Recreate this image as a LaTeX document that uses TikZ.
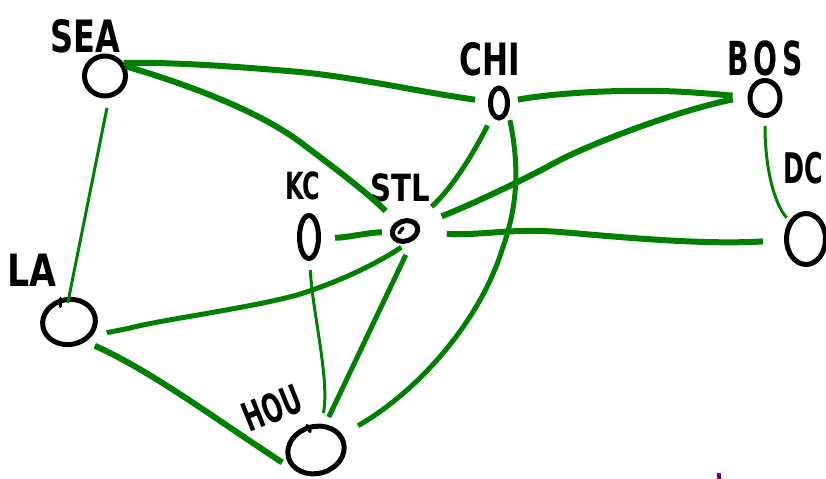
\documentclass[tikz,border=0pt]{standalone}
\usepackage{fontspec}
\setmainfont{DejaVu Sans}
\usetikzlibrary{shapes.geometric}
\newdimen\pxu \pxu=0.03cm
\definecolor{edgegreen}{RGB}{0,128,0}
\definecolor{markpurple}{RGB}{128,0,128}
\newcommand\citylab[3]{\fontsize{#1}{#1}\selectfont\scalebox{#2}[1]{#3}}
\begin{document}
\begin{tikzpicture}[x=0.03cm,y=-0.03cm,
  city/.style={draw=black, line width=5\pxu, ellipse, inner sep=0pt},
  lbl/.style={font=\bfseries, inner sep=0pt, text=black},
  tick/.style={draw=black, line width=3.5\pxu, line cap=round},
  thickedge/.style={draw=edgegreen, line width=6\pxu},
  midedge/.style={draw=edgegreen, line width=5\pxu},
  thinedge/.style={draw=edgegreen, line width=3\pxu},
]
\useasboundingbox (0,0) rectangle (826,479);

% cities
\node[city, minimum width=41\pxu, minimum height=40\pxu] (sea) at (105,76) {};
\node[city, minimum width=17\pxu, minimum height=30\pxu] (chi) at (499,103) {};
\node[city, minimum width=30\pxu, minimum height=35\pxu] (bos) at (765,98) {};
\node[city, minimum width=39\pxu, minimum height=51\pxu] (dc) at (806,239) {};
\node[city, minimum width=19\pxu, minimum height=43\pxu] (kc) at (309,237) {};
\node[city, minimum width=26\pxu, minimum height=20\pxu, rotate=20] (stl) at (405,231) {};
\node[city, minimum width=53\pxu, minimum height=45\pxu, rotate=10] (la) at (69,322) {};
\node[city, minimum width=57\pxu, minimum height=47\pxu, rotate=15] (hou) at (316,450) {};

% labels
\node[lbl] (lsea) at (85,36) {\citylab{38}{0.72}{SEA}};
\node[lbl] (lchi) at (490,59) {\citylab{38}{0.7}{CHI}};
\node[lbl] (lbos) at (765,58) {\citylab{40}{0.6}{B\,O\,S}};
\node[lbl] (ldc) at (803,168) {\citylab{36}{0.6}{DC}};
\node[lbl] (lkc) at (303,186) {\citylab{32}{0.64}{KC}};
\node[lbl] (lstl) at (400,188) {\citylab{32}{0.78}{STL}};
\node[lbl] (lla) at (32,270) {\citylab{38}{0.78}{LA}};
\node[lbl, rotate=22] (lhou) at (272,408) {\citylab{34}{0.6}{HOU}};

% small pen marks
\draw[tick] (la.100) -- ++(0,8);
\draw[tick] (stl.center) ++(-2,-3) -- ++(-4,5);
\draw[tick] (hou.95) -- ++(3,6);

% connectors
\draw[thickedge, shorten >=13\pxu] (sea.35) .. controls (170,62) and (230,66) .. (300,72)
   .. controls (360,78) and (420,92) .. (chi);
\draw[thickedge, shorten >=15\pxu] (sea.25) .. controls (190,85) and (260,112) .. (300,142)
   .. controls (340,172) and (370,195) .. (stl);
\draw[thinedge, shorten <=10\pxu, shorten >=-6\pxu] (sea.-80) -- (la.80);
\draw[thickedge, shorten <=8\pxu, shorten >=15\pxu] (chi) .. controls (560,92) and (640,88) .. (700,93)
   .. controls (715,94) and (725,95) .. (bos);
\draw[thickedge, shorten <=15\pxu, shorten >=24\pxu] (bos.175) .. controls (680,110) and (600,140) .. (560,160)
   .. controls (520,182) and (470,205) .. (stl);
\draw[midedge, shorten <=10\pxu, shorten >=21\pxu] (chi) .. controls (470,160) and (450,190) .. (stl);
\draw[midedge, shorten <=8\pxu, shorten >=18\pxu] (chi.-45) .. controls (518,160) and (520,200) .. (502,250)
   .. controls (480,320) and (420,390) .. (hou);
\draw[thinedge, shorten <=8\pxu, shorten >=4\pxu] (bos) .. controls (765,170) and (775,205) .. (dc);
\draw[thickedge, shorten <=27\pxu, shorten >=21\pxu] (stl) .. controls (480,236) and (510,228) .. (560,232)
   .. controls (620,237) and (700,245) .. (dc);
\draw[thickedge, shorten <=14\pxu, shorten >=8\pxu] (kc) .. controls (345,238) and (365,233) .. (stl);
\draw[thinedge, shorten <=9\pxu, shorten >=11\pxu] (kc) .. controls (312,310) and (330,380) .. (hou);
\draw[midedge, shorten <=15\pxu, shorten >=8\pxu] (stl.-75) -- (hou.55);
\draw[midedge, shorten <=7\pxu, shorten >=13\pxu] (stl.-100) .. controls (370,268) and (330,285) .. (297,295)
   .. controls (250,308) and (160,320) .. (130,328) .. controls (115,331) and (105,333) .. (la.-35);
\draw[thickedge, shorten <=10\pxu, shorten >=18\pxu] (la.-60) .. controls (150,370) and (220,422) .. (hou.215);

% stray purple mark
\fill[markpurple] (717,473) rectangle (721,479);
\end{tikzpicture}
\end{document}
